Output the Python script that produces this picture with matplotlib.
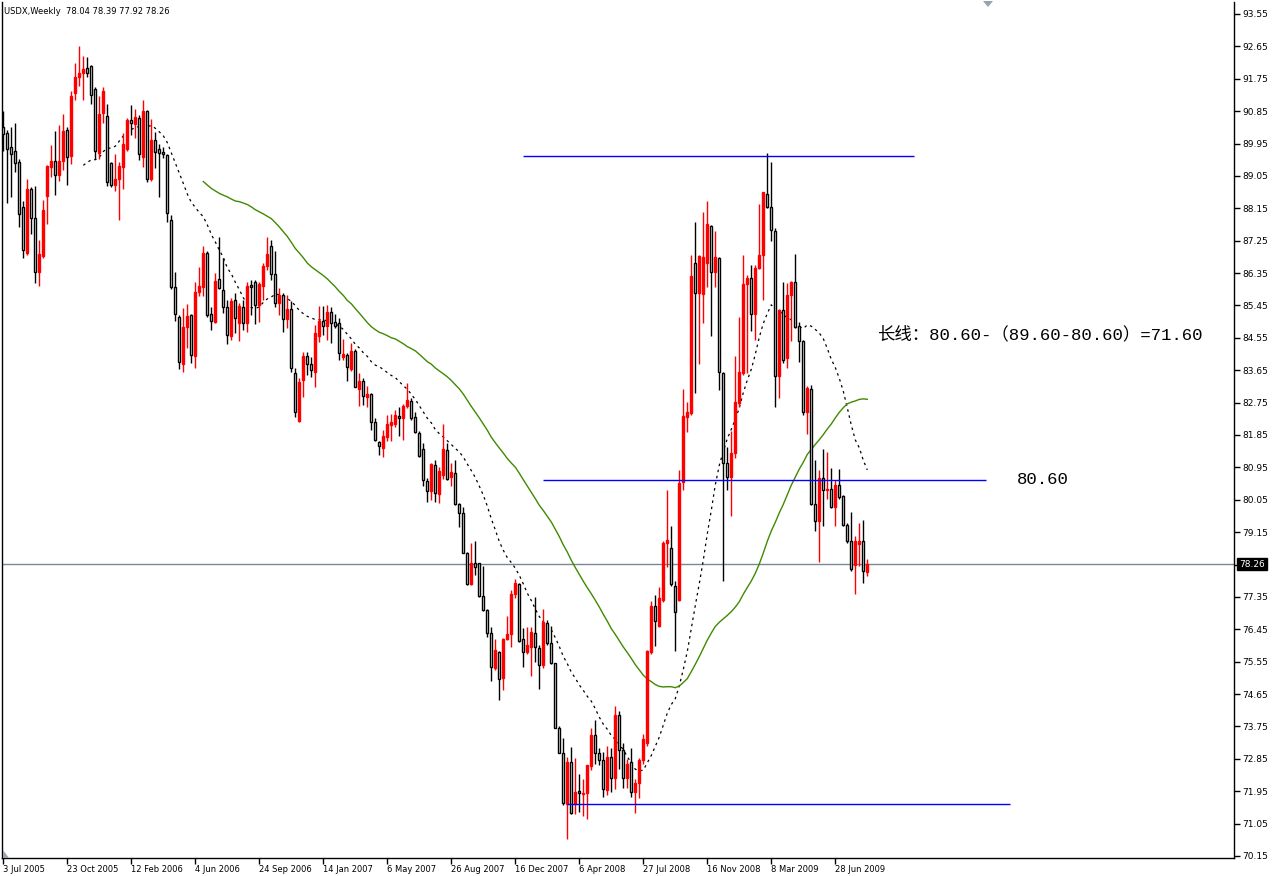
import matplotlib
matplotlib.use("Agg")
import matplotlib.pyplot as plt
import numpy as np
import pandas as pd
from matplotlib.patches import Polygon

# weekly USDX bars, first bar = week of 3 Jul 2005
opens = [
    90.41, 90.24, 89.85, 89.73, 89.43, 88.18, 86.92, 88.68, 87.88, 86.37,
    86.83, 88.48, 89.31, 89.47, 89.08, 89.47, 90.33, 89.59, 91.35, 91.81,
    91.91, 92.05, 92.11, 91.46, 89.68, 90.81, 90.72, 89.42, 88.80, 88.96,
    89.31, 89.80, 90.61, 90.50, 90.66, 89.57, 90.86, 88.96, 90.05, 89.80,
    89.72, 89.63, 87.83, 85.97, 85.12, 83.82, 84.86, 85.19, 84.05, 85.81,
    85.97, 86.90, 85.21, 85.00, 86.18, 85.88, 85.40, 84.59, 85.60, 84.96,
    85.42, 84.96, 86.02, 86.09, 85.45, 86.00, 86.56, 87.11, 86.33, 85.53,
    85.74, 85.07, 85.35, 83.57, 82.25, 83.38, 84.05, 83.82, 83.61, 84.61,
    85.03, 84.89, 85.26, 84.98, 84.95, 84.03, 84.07, 83.69, 84.19, 83.13,
    83.36, 82.90, 82.98, 82.22, 81.65, 81.48, 81.79, 82.13, 82.16, 82.38,
    82.32, 82.66, 82.80, 82.36, 81.90, 81.45, 80.58, 80.30, 81.02, 80.20,
    80.74, 81.43, 80.67, 80.78, 79.93, 79.67, 78.58, 77.71, 78.30, 78.28,
    77.38, 76.99, 76.34, 75.37, 75.83, 75.09, 76.17, 76.31, 77.43, 77.70,
    76.17, 75.83, 75.97, 76.34, 75.92, 75.46, 76.62, 76.06, 75.50, 73.72,
    73.02, 71.59, 72.77, 71.59, 71.96, 71.87, 71.91, 72.65, 73.50, 73.02,
    72.83, 71.99, 72.91, 72.33, 74.06, 73.10, 72.33, 72.76, 71.94, 72.18,
    72.81, 73.28, 75.83, 77.10, 76.54, 77.27, 78.86, 78.70, 77.65, 77.27,
    80.55, 82.34, 82.45, 86.63, 85.79, 85.77, 86.63, 87.65, 86.39, 86.78,
    83.57, 81.07, 80.68, 81.35, 82.73, 83.57, 86.05, 86.21, 85.22, 86.48,
    86.86, 88.55, 88.18, 87.53, 83.48, 85.33, 83.99, 85.74, 86.09, 84.88,
    84.45, 82.50, 83.12, 79.94, 79.45, 80.65, 80.33, 80.35, 79.85, 80.47,
    80.16, 79.36, 78.89, 78.24, 78.83, 78.89, 78.04,
]
highs = [
    90.86, 90.33, 90.42, 90.52, 89.52, 88.36, 88.97, 88.73, 88.76, 87.28,
    88.39, 89.36, 89.91, 90.30, 90.47, 90.78, 90.42, 91.42, 92.18, 92.67,
    92.37, 92.35, 92.14, 91.52, 91.26, 91.51, 91.05, 89.45, 89.66, 89.45,
    90.24, 90.66, 91.03, 90.91, 90.75, 91.17, 90.89, 90.63, 90.28, 89.95,
    89.86, 89.65, 87.97, 86.37, 85.19, 85.37, 85.49, 85.22, 86.11, 86.53,
    87.09, 86.95, 85.42, 86.35, 87.36, 86.76, 85.60, 85.65, 85.79, 85.53,
    85.60, 86.11, 86.16, 86.16, 86.11, 86.62, 87.36, 87.27, 86.95, 85.93,
    85.79, 85.74, 85.56, 83.70, 83.43, 84.17, 84.17, 84.03, 84.91, 85.44,
    85.44, 85.46, 85.42, 85.21, 85.09, 84.51, 84.12, 84.42, 84.23, 83.57,
    83.43, 83.21, 83.01, 82.32, 81.67, 82.00, 82.41, 82.44, 82.55, 82.62,
    82.70, 83.29, 82.87, 82.50, 81.95, 81.62, 80.65, 81.07, 81.16, 80.97,
    82.15, 81.63, 81.06, 81.15, 79.95, 79.86, 78.61, 78.84, 78.90, 78.30,
    78.21, 77.01, 76.50, 76.17, 75.86, 76.20, 76.82, 77.54, 77.84, 77.75,
    76.48, 76.52, 76.52, 77.34, 76.01, 77.01, 76.71, 76.54, 75.52, 73.75,
    73.42, 72.89, 73.17, 72.86, 72.43, 72.28, 72.65, 73.72, 73.92, 73.14,
    73.05, 73.21, 73.16, 74.32, 74.18, 73.30, 72.84, 73.16, 72.29, 72.87,
    73.53, 75.88, 77.25, 77.39, 77.62, 78.90, 80.32, 79.33, 77.80, 80.87,
    83.13, 82.78, 86.86, 87.78, 86.85, 88.05, 88.34, 87.68, 87.53, 86.80,
    83.60, 81.51, 81.95, 84.05, 85.14, 86.86, 86.30, 86.58, 86.58, 88.27,
    88.61, 89.68, 89.45, 87.60, 85.36, 86.11, 86.07, 86.14, 86.88, 85.00,
    84.49, 83.20, 83.24, 81.16, 80.88, 81.46, 81.39, 80.93, 80.61, 80.90,
    80.19, 79.40, 79.70, 79.05, 79.40, 79.49, 78.39,
]
lows = [
    89.73, 88.29, 88.45, 89.15, 87.63, 86.76, 86.86, 87.44, 86.07, 85.98,
    86.77, 87.72, 89.01, 88.52, 88.92, 89.22, 88.80, 89.39, 91.17, 91.54,
    91.15, 91.79, 91.05, 89.52, 89.52, 90.53, 88.76, 88.74, 88.62, 87.83,
    88.68, 89.73, 90.19, 90.10, 89.48, 89.29, 88.87, 88.92, 89.26, 88.45,
    89.55, 87.78, 85.90, 85.03, 83.68, 83.59, 84.26, 83.85, 83.72, 85.70,
    85.70, 85.14, 84.77, 84.96, 85.91, 85.23, 84.37, 84.48, 84.68, 84.47,
    84.77, 84.70, 85.19, 84.94, 85.00, 85.60, 86.44, 86.16, 85.42, 85.19,
    84.70, 84.82, 83.61, 82.36, 82.22, 82.90, 83.52, 83.47, 83.18, 84.44,
    84.63, 84.49, 84.40, 84.82, 83.92, 83.92, 83.36, 83.64, 83.18, 82.66,
    82.69, 82.62, 81.99, 81.67, 81.30, 81.25, 81.67, 81.67, 82.07, 81.81,
    81.71, 82.59, 82.27, 81.90, 81.25, 80.42, 80.00, 80.05, 80.00, 79.97,
    80.64, 80.60, 80.43, 79.90, 79.30, 78.56, 77.68, 77.68, 77.96, 77.36,
    76.97, 76.23, 75.00, 75.32, 74.49, 74.76, 76.15, 75.95, 77.31, 76.10,
    75.39, 75.76, 75.15, 75.55, 74.78, 75.37, 76.01, 75.48, 73.70, 73.00,
    71.57, 70.62, 71.32, 71.32, 71.38, 71.26, 71.17, 72.55, 72.70, 72.68,
    71.80, 71.85, 71.94, 72.00, 72.58, 72.03, 72.03, 71.79, 71.35, 71.77,
    72.70, 73.22, 75.77, 75.99, 76.50, 77.22, 78.17, 77.65, 75.85, 77.24,
    80.32, 81.94, 82.41, 83.03, 83.82, 84.96, 85.97, 84.61, 85.97, 83.10,
    77.80, 80.33, 79.59, 81.21, 82.64, 83.52, 83.57, 84.75, 84.49, 86.45,
    85.61, 88.15, 87.23, 82.62, 82.87, 83.86, 83.71, 84.45, 84.82, 83.89,
    82.41, 81.88, 79.90, 79.17, 78.31, 79.31, 80.07, 79.82, 79.31, 80.07,
    79.31, 78.85, 78.06, 77.44, 78.20, 77.73, 77.92,
]
closes = [
    90.22, 89.80, 89.66, 89.41, 87.99, 86.98, 88.69, 87.88, 86.37, 86.89,
    88.11, 89.33, 89.47, 89.08, 89.47, 90.30, 89.57, 91.28, 91.81, 91.92,
    92.02, 91.92, 91.30, 89.73, 90.78, 91.40, 88.87, 88.80, 88.97, 89.33,
    89.94, 90.61, 90.52, 90.68, 89.66, 90.86, 88.96, 90.05, 89.72, 89.70,
    89.65, 88.03, 85.97, 85.21, 83.89, 84.85, 85.16, 84.08, 85.81, 85.99,
    86.90, 85.19, 85.03, 86.13, 85.93, 85.42, 84.63, 85.58, 85.11, 85.44,
    84.97, 85.99, 85.97, 85.47, 86.05, 86.56, 86.87, 86.33, 85.53, 85.74,
    85.07, 85.35, 83.71, 82.50, 83.33, 84.05, 83.82, 83.66, 84.68, 85.03,
    84.89, 85.26, 84.95, 84.89, 84.12, 84.10, 83.75, 84.19, 83.19, 83.36,
    82.94, 82.98, 82.22, 81.71, 81.53, 81.81, 82.15, 82.20, 82.41, 82.32,
    82.66, 82.82, 82.32, 81.92, 81.27, 80.60, 80.28, 81.05, 80.25, 80.85,
    81.45, 80.64, 80.83, 79.93, 79.67, 78.58, 77.71, 78.30, 78.19, 77.38,
    76.99, 76.34, 75.39, 75.88, 75.06, 76.17, 76.32, 77.43, 77.73, 76.13,
    75.83, 76.01, 76.37, 75.95, 75.46, 76.64, 76.06, 75.51, 73.72, 73.02,
    71.61, 72.77, 71.34, 71.92, 71.89, 71.91, 72.68, 73.52, 73.02, 72.82,
    72.00, 72.90, 72.33, 74.06, 73.10, 72.33, 72.72, 71.94, 72.18, 72.81,
    73.39, 75.85, 77.10, 76.69, 77.31, 78.86, 78.92, 77.70, 76.93, 80.52,
    82.37, 82.49, 86.28, 85.79, 86.83, 86.81, 87.70, 86.39, 86.81, 83.59,
    81.06, 80.68, 81.35, 82.78, 83.61, 86.05, 86.21, 85.22, 86.48, 86.86,
    88.59, 88.18, 87.55, 83.48, 85.33, 83.92, 85.74, 86.11, 84.85, 84.45,
    82.50, 83.15, 79.94, 79.45, 80.65, 80.33, 80.36, 79.85, 80.47, 80.14,
    79.36, 78.89, 78.12, 78.89, 78.89, 78.06, 78.26,
]

start_date = "2005-07-03"
label_every = 16
ma_fast, ma_slow = 21, 51

# levels drawn by hand: (price, first week, last week)
levels = [(89.60, 129.9, 227.7), (80.60, 134.9, 245.7), (71.60, 140.9, 251.7)]
note_text = "长线：80.60-（89.60-80.60）=71.60"
level_text = "80.60"
title_text = "USDX,Weekly  78.04 78.39 77.92 78.26"
last_price = 78.26

plt.rcParams["font.family"] = "DejaVu Sans"

W, H = 1276, 876
fig = plt.figure(figsize=(W / 100, H / 100), dpi=100)
ax = fig.add_axes([2 / W, 18 / H, 1232 / W, 856 / H])

o = np.array(opens)
h = np.array(highs)
l = np.array(lows)
c = np.array(closes)
x = np.arange(len(c))
up = c >= o
dates = pd.date_range(start_date, periods=len(c), freq="W-SUN")

# moving averages
s = pd.Series(c)
ax.plot(x, s.rolling(ma_fast).mean(), color="black", lw=0.9,
        linestyle=(0, (2, 3)), zorder=2)
ax.plot(x, s.rolling(ma_slow).mean(), color="#3f8a00", lw=1.0, zorder=2)

# candles
bottom = np.minimum(o, c)
height = np.maximum(np.abs(c - o), 0.025)
ax.vlines(x[up], l[up], h[up], color="red", lw=1, zorder=3)
ax.vlines(x[~up], l[~up], h[~up], color="black", lw=1, zorder=3)
ax.bar(x[up], height[up], bottom=bottom[up], width=0.5, color="red",
       edgecolor="red", linewidth=1, zorder=4)
ax.bar(x[~up], height[~up], bottom=bottom[~up], width=0.5, color="white",
       edgecolor="black", linewidth=1, zorder=4)

# horizontal levels
for price, x0, x1 in levels:
    ax.hlines(price, x0, x1, color="#0000ff", lw=1, zorder=5)

ax.axhline(last_price, color="#7a8898", lw=1, zorder=1)

ax.text(218.4, 84.66, note_text, fontsize=12.5,
        family=["Liberation Mono", "Noto Sans CJK SC"], va="center", ha="left")
ax.text(253.4, 80.60, level_text, fontsize=12.5,
        family=["Liberation Mono", "Noto Sans CJK SC"], va="center", ha="left")

ax.set_xlim(-0.33, 307.68)
ax.set_ylim(70.094, 93.883)

# right price axis; the tick under the current-price box stays unlabelled
ax.yaxis.tick_right()
yt = np.round(70.15 + 0.9 * np.arange(27), 2)
ax.set_yticks(yt)
ax.set_yticklabels(["" if abs(v - last_price) < 0.3 else f"{v:.2f}" for v in yt])
ax.tick_params(axis="y", direction="out", length=4, width=1, pad=2,
               labelsize=6.5)

# bottom date axis
xt = x[::label_every]
ax.set_xticks(xt)
ax.set_xticklabels([f"{d.day} {d.strftime('%b %Y')}" for d in dates[::label_every]],
                   ha="left")
ax.tick_params(axis="x", direction="out", length=4, width=1, pad=1,
               labelsize=6)

for side in ("left", "bottom", "right"):
    ax.spines[side].set_linewidth(1)
ax.spines["top"].set_visible(False)

ax.text(1.0 + 5 / 1232, last_price, f"{last_price:.2f}", transform=ax.get_yaxis_transform(),
        fontsize=6.5, color="white", va="center", ha="left", zorder=6,
        bbox=dict(facecolor="black", edgecolor="black", boxstyle="square,pad=0.2"))

fig.text(4 / W, 1 - 11 / H, title_text, fontsize=6, va="center", ha="left")

# small chart shift markers
fig.patches.append(Polygon([[983 / W, 1 - 1 / H], [993 / W, 1 - 1 / H], [988 / W, 1 - 7 / H]],
                           closed=True, transform=fig.transFigure, facecolor="#9aa4ad",
                           edgecolor="none"))
fig.patches.append(Polygon([[3 / W, 18 / H], [9 / W, 18 / H], [3 / W, 26 / H]],
                           closed=True, transform=fig.transFigure, facecolor="#9aa4ad",
                           edgecolor="none"))

fig.savefig("out.png", dpi=100)
